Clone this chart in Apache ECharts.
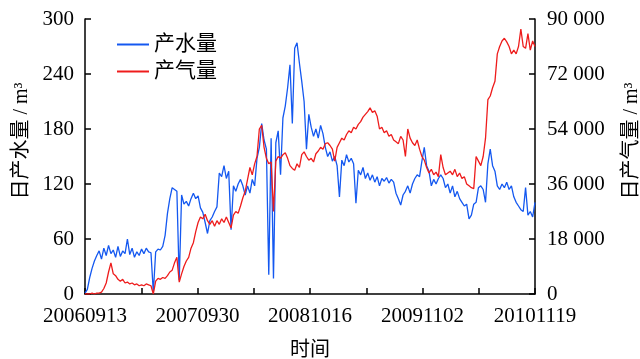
<!DOCTYPE html>
<html>
<head>
<meta charset="utf-8">
<script src="https://cdn.jsdelivr.net/npm/echarts@6/dist/echarts.min.js"></script>
<style>html,body{margin:0;padding:0;background:#fff}#c{width:640px;height:359px}</style>
</head>
<body>
<div id="c"></div>
<script>
// x tick labels (every 382 days), sampling step of data in days
const xTickLabels = ['20060913','20070930','20081016','20091102','20101119'];
const dayStep = 8;
const seriesNames = ['产水量','产气量'];
// daily water production (m3), sampled every 8 days
const water = [
1,5,18,28,36,42,47,38,50,42,
53,44,48,40,52,41,47,44,60,43,
50,40,46,42,49,44,50,46,45,2,
46,49,48,52,64,88,104,116,114,112,
15,108,98,101,96,104,110,104,107,94,
89,78,66,80,84,90,95,132,128,140,
126,134,70,118,112,120,125,118,108,118,
110,125,118,148,160,186,168,158,21,170,
17,165,178,130,192,205,225,250,186,268,
274,252,232,210,158,196,182,172,180,170,
184,175,160,150,155,145,150,140,106,146,
140,152,144,148,142,99,135,130,138,126,
132,124,130,122,128,118,126,123,127,121,
125,122,110,104,97,108,112,118,110,120,
126,130,128,145,160,140,134,118,125,120,
126,130,126,116,120,110,118,106,112,104,
100,96,98,82,86,98,100,116,118,114,
100,142,158,140,134,118,114,120,116,122,
114,118,106,100,96,92,90,116,86,90,
84,100
];
// daily gas production (m3), sampled every 8 days
const gas = [
0,0,0,300,0,300,300,600,1800,3600,
7200,10200,6600,6000,4800,4200,4800,3600,3900,3300,
3600,3000,3300,2700,3000,2700,3300,3000,2700,0,
4200,5100,4800,5400,5100,6000,7200,7800,10200,12000,
3900,6600,9000,10800,12000,15000,16800,20400,23400,25200,
24600,26100,24000,22800,24000,22200,24000,22800,24600,23400,
25200,23400,21600,25800,27000,26400,28800,31500,33600,37500,
41400,39000,42600,45000,54000,55200,48000,44400,42600,43200,
27000,43500,45000,44400,45600,46200,44400,42000,41100,40500,
42600,41400,45600,46500,45000,43800,44400,43200,45900,46800,
48000,47400,49200,49500,48600,47400,43500,48000,49500,51000,
50400,52200,53400,52800,54600,54000,55500,56400,57900,58800,
59700,60900,59400,60000,58200,54000,54600,52800,53400,51600,
52200,50400,49800,49200,51600,50400,45000,54000,51000,49500,
48600,50400,47400,45000,43800,41400,39600,40800,39000,39900,
38400,45600,41400,39000,39600,40200,39000,40800,38400,39600,
37800,38400,36000,35400,34800,34500,45000,43500,42000,45000,
51000,63600,64800,67500,69600,78600,81000,82800,83700,82500,
81000,78600,79800,78600,81000,86700,81000,80400,85200,79800,
82800,81000
];

const labelSpan = 382;
const totalDays = labelSpan * (xTickLabels.length - 1);
const waterPts = water.map((v, i) => [i * dayStep, v]);
const gasPts = gas.map((v, i) => [i * dayStep, v]);

const FONT = "'Liberation Serif', 'Noto Sans CJK SC', serif";
const chart = echarts.init(document.getElementById('c'), null, {renderer: 'canvas'});
const axisLine = {show: true, lineStyle: {color: '#000', width: 1.5}};
const axisTick = {show: true, inside: true, length: 6, lineStyle: {color: '#000', width: 1.5}};
const yNameStyle = {fontSize: 20, color: '#000', fontFamily: FONT, padding: [0, 0, 0, 31]};
chart.setOption({
  animation: false,
  backgroundColor: '#fff',
  textStyle: {fontFamily: FONT, color: '#000'},
  grid: {left: 85, right: 105, top: 19, bottom: 65, containLabel: false, outerBoundsMode: 'none'},
  legend: {
    data: seriesNames,
    orient: 'vertical',
    left: 117, top: 34, padding: 0,
    itemWidth: 32, itemHeight: 2, itemGap: 6,
    icon: 'rect',
    textStyle: {fontFamily: FONT, fontSize: 21, lineHeight: 21, color: '#000'}
  },
  xAxis: {
    type: 'value', min: 0, max: totalDays, interval: labelSpan / 2,
    name: '时间', nameLocation: 'middle', nameGap: 47,
    nameTextStyle: {fontSize: 20, color: '#000', fontFamily: FONT},
    axisLine: axisLine, axisTick: axisTick, splitLine: {show: false},
    axisLabel: {
      color: '#000', fontSize: 21, margin: 12, fontFamily: FONT,
      showMinLabel: true, showMaxLabel: true,
      formatter: v => (v % labelSpan === 0) ? xTickLabels[v / labelSpan] : ''
    }
  },
  yAxis: [
    {
      type: 'value', min: 0, max: 300, interval: 60, position: 'left',
      name: '日产水量 / m³', nameLocation: 'middle', nameGap: 53, nameRotate: 90,
      nameTextStyle: yNameStyle,
      axisLine: axisLine, axisTick: axisTick, splitLine: {show: false},
      axisLabel: {color: '#000', fontSize: 21, margin: 11, fontFamily: FONT}
    },
    {
      type: 'value', min: 0, max: 90000, interval: 18000, position: 'right',
      name: '日产气量 / m³', nameLocation: 'middle', nameGap: 87, nameRotate: 90,
      nameTextStyle: yNameStyle,
      axisLine: axisLine, axisTick: axisTick, splitLine: {show: false},
      axisLabel: {
        color: '#000', fontSize: 21, margin: 12, fontFamily: FONT,
        formatter: v => v === 0 ? '0' : String(v).replace(/\B(?=(\d{3})+(?!\d))/g, ' ')
      }
    }
  ],
  series: [
    {
      name: seriesNames[0], type: 'line', yAxisIndex: 0, data: waterPts,
      showSymbol: false, symbol: 'none',
      itemStyle: {color: '#1458f0'}, lineStyle: {color: '#1458f0', width: 1.3}
    },
    {
      name: seriesNames[1], type: 'line', yAxisIndex: 1, data: gasPts,
      showSymbol: false, symbol: 'none',
      itemStyle: {color: '#ee1c1c'}, lineStyle: {color: '#ee1c1c', width: 1.3}
    }
  ]
});
</script>
</body>
</html>
